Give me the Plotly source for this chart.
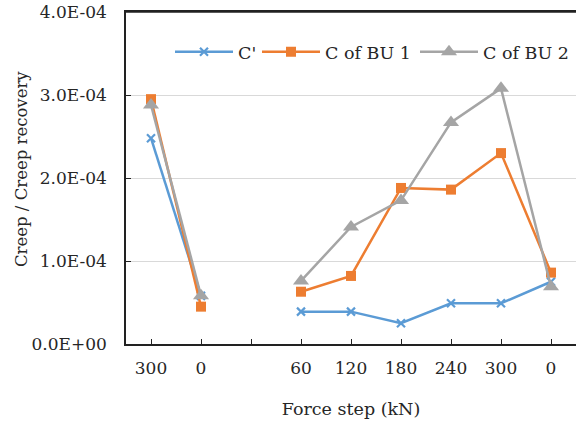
import plotly.graph_objects as go

categories = ["300", "0", "", "60", "120", "180", "240", "300", "0"]
c_prime = [2.48e-4, 0.58e-4, None, 0.39e-4, 0.39e-4, 0.25e-4, 0.49e-4, 0.49e-4, 0.75e-4]
c_bu1 = [2.95e-4, 0.45e-4, None, 0.63e-4, 0.82e-4, 1.88e-4, 1.86e-4, 2.30e-4, 0.86e-4]
c_bu2 = [2.88e-4, 0.58e-4, None, 0.76e-4, 1.41e-4, 1.73e-4, 2.67e-4, 3.08e-4, 0.69e-4]
series_names = ["C'", "C of BU 1", "C of BU 2"]
y_tickvals = [0, 1e-4, 2e-4, 3e-4, 4e-4]
y_ticktext = ["0.0E+00", "1.0E-04", "2.0E-04", "3.0E-04", "4.0E-04"]
x_title = "Force step (kN)"
y_title = "Creep / Creep recovery"

x = list(range(len(categories)))
font = "DejaVu Serif"
txt = "#262626"

fig = go.Figure()
fig.add_trace(go.Scatter(x=x, y=c_prime, name=series_names[0], mode="lines+markers",
                         line=dict(color="#5B9BD5", width=2.5),
                         marker=dict(symbol="x-thin", size=8, line=dict(color="#5B9BD5", width=2.2)),
                         connectgaps=False, legend="legend"))
fig.add_trace(go.Scatter(x=x, y=c_bu1, name=series_names[1], mode="lines+markers",
                         line=dict(color="#ED7D31", width=2.5),
                         marker=dict(symbol="square", size=10, color="#ED7D31"),
                         connectgaps=False, legend="legend2"))
fig.add_trace(go.Scatter(x=x, y=c_bu2, name=series_names[2], mode="lines+markers",
                         line=dict(color="#A5A5A5", width=2.5),
                         marker=dict(symbol="triangle-up", size=14, color="#A5A5A5"),
                         connectgaps=False, legend="legend3"))

leg_common = dict(orientation="h", y=0.88, xanchor="left", yanchor="middle",
                  font=dict(family=font, size=17.5, color=txt),
                  bgcolor="rgba(0,0,0,0)", itemwidth=58)

fig.update_layout(
    width=576, height=426,
    margin=dict(l=126, r=0, t=12, b=82, autoexpand=False),
    paper_bgcolor="white", plot_bgcolor="white",
    font=dict(family=font, size=17, color=txt),
    showlegend=True,
    legend=dict(x=(170 - 126) / 450, **leg_common),
    legend2=dict(x=(257 - 126) / 450, **leg_common),
    legend3=dict(x=(415 - 126) / 450, **leg_common),
    xaxis=dict(range=[-0.5, 8.5], tickvals=x, ticktext=categories,
               showline=True, linecolor="#222222", linewidth=1.5, mirror=True,
               ticks="inside", ticklen=5, tickcolor="#222222",
               showgrid=False, zeroline=False, automargin=False,
               tickfont=dict(family=font, size=17, color=txt),
               ticklabelstandoff=8,
               title=dict(text=x_title, font=dict(family=font, size=17.5, color=txt), standoff=26)),
    yaxis=dict(range=[0, 4e-4], tickvals=y_tickvals, ticktext=y_ticktext,
               showline=True, linecolor="#222222", linewidth=1.5,
               ticks="inside", ticklen=5, tickcolor="#222222",
               showgrid=True, gridcolor="#D9D9D9", gridwidth=1, zeroline=False, automargin=False,
               tickfont=dict(family=font, size=17, color=txt),
               ticklabelstandoff=14, ticklabeloverflow="allow"),
    annotations=[dict(text=y_title, xref="paper", yref="paper",
                      x=(21 - 126) / 450, y=(344 - 169) / 332,
                      xanchor="center", yanchor="middle", textangle=-90, showarrow=False,
                      font=dict(family=font, size=16.5, color=txt))],
    shapes=[dict(type="line", xref="paper", yref="paper", x0=0, x1=1, y0=1, y1=1,
                 line=dict(color="#222222", width=1.5), layer="above")],
)

fig.write_html("out.html", config={"displayModeBar": False},
               post_script="document.body.style.margin='0px';document.body.style.overflow='hidden';")
